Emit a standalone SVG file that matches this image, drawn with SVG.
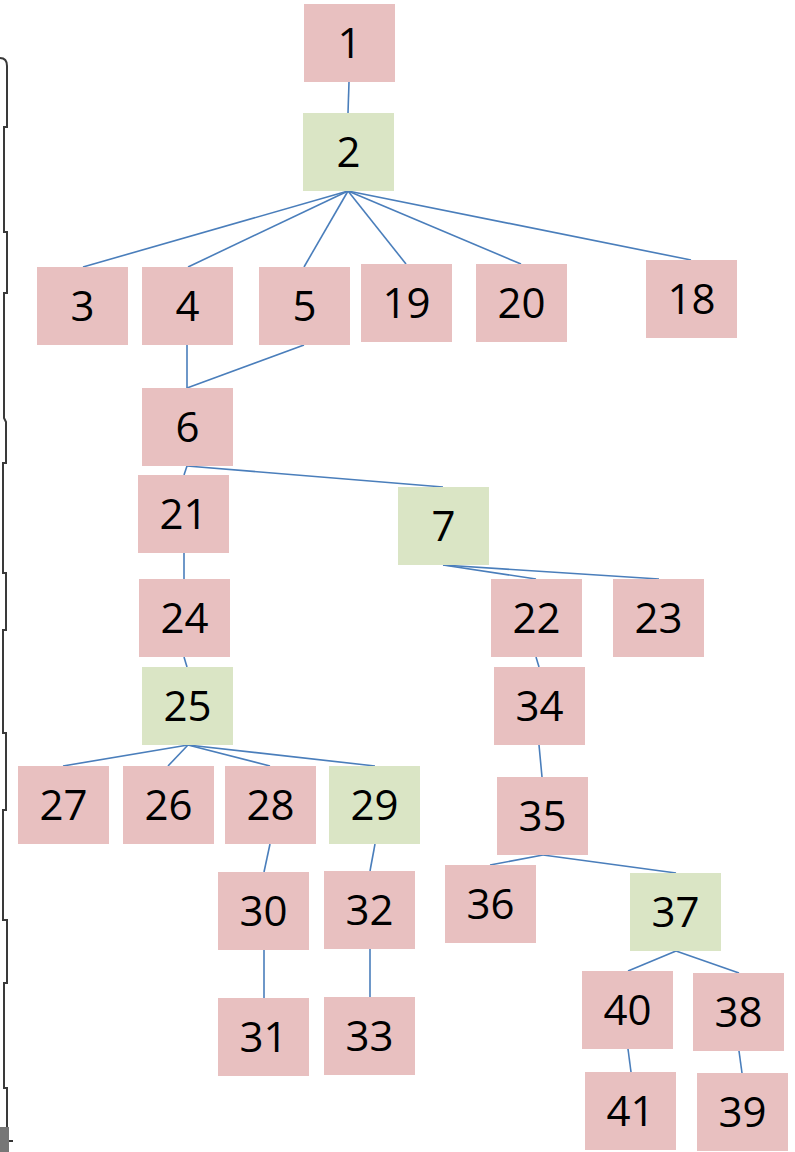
<svg xmlns="http://www.w3.org/2000/svg" width="795" height="1152" viewBox="0 0 795 1152">
<style>
.p{fill:#E8C0C0}
.g{fill:#DAE5C5}
.t{font-family:"Open Sans","Liberation Sans",sans-serif;font-size:42px;fill:#000;text-anchor:middle}
.c line{stroke:#4A7EBB;stroke-width:1.6}
.edge{fill:none;stroke:#3a3a3a;stroke-width:2}
</style>
<rect width="795" height="1152" fill="#fff"/>
<g id="scan-edge">
<path class="edge" d="M0,58 Q7,58 7,66 V127 H4 V232 H7 V293 H4 V418 L6,422 V463 H3 V573 H6 V630 H3 V733 H6 V810 H3 V920 H7 V983 H4 V1088 H7 V1152"/>
<rect x="0" y="1127" width="9" height="25" fill="#777"/>
<line x1="9" y1="1141" x2="13" y2="1141" stroke="#333" stroke-width="2"/>
</g>
<g class="c" id="connectors">
<line x1="349" y1="82" x2="348" y2="113"/>
<line x1="348" y1="191" x2="83" y2="267"/>
<line x1="348" y1="191" x2="188" y2="267"/>
<line x1="348" y1="191" x2="304" y2="267"/>
<line x1="348" y1="191" x2="406" y2="264"/>
<line x1="348" y1="191" x2="521" y2="264"/>
<line x1="348" y1="191" x2="691" y2="260"/>
<line x1="187" y1="345" x2="187" y2="388"/>
<line x1="304" y1="345" x2="187" y2="388"/>
<line x1="187" y1="466" x2="184" y2="475"/>
<line x1="187" y1="466" x2="443" y2="487"/>
<line x1="184" y1="553" x2="184" y2="579"/>
<line x1="184" y1="657" x2="187" y2="667"/>
<line x1="188" y1="745" x2="63" y2="766"/>
<line x1="188" y1="745" x2="168" y2="766"/>
<line x1="188" y1="745" x2="270" y2="766"/>
<line x1="188" y1="745" x2="375" y2="766"/>
<line x1="270" y1="844" x2="264" y2="872"/>
<line x1="375" y1="844" x2="370" y2="871"/>
<line x1="264" y1="950" x2="264" y2="998"/>
<line x1="370" y1="949" x2="370" y2="997"/>
<line x1="443" y1="565" x2="536" y2="579"/>
<line x1="443" y1="565" x2="659" y2="579"/>
<line x1="536" y1="657" x2="539" y2="667"/>
<line x1="539" y1="745" x2="542" y2="777"/>
<line x1="543" y1="855" x2="490" y2="865"/>
<line x1="543" y1="855" x2="676" y2="873"/>
<line x1="676" y1="951" x2="628" y2="971"/>
<line x1="676" y1="951" x2="739" y2="973"/>
<line x1="628" y1="1049" x2="631" y2="1072"/>
<line x1="739" y1="1051" x2="742" y2="1073"/>
</g>
<g id="n1"><rect class="p" x="304" y="4" width="91" height="78"/><text class="t" x="349.5" y="58">1</text></g>
<g id="n2"><rect class="g" x="303" y="113" width="91" height="78"/><text class="t" x="348.5" y="167">2</text></g>
<g id="n3"><rect class="p" x="37" y="267" width="91" height="78"/><text class="t" x="82.5" y="321">3</text></g>
<g id="n4"><rect class="p" x="142" y="267" width="91" height="78"/><text class="t" x="187.5" y="321">4</text></g>
<g id="n5"><rect class="p" x="259" y="267" width="91" height="78"/><text class="t" x="304.5" y="321">5</text></g>
<g id="n19"><rect class="p" x="361" y="264" width="91" height="78"/><text class="t" x="406.5" y="318">19</text></g>
<g id="n20"><rect class="p" x="476" y="264" width="91" height="78"/><text class="t" x="521.5" y="318">20</text></g>
<g id="n18"><rect class="p" x="646" y="260" width="91" height="78"/><text class="t" x="691.5" y="314">18</text></g>
<g id="n6"><rect class="p" x="142" y="388" width="91" height="78"/><text class="t" x="187.5" y="442">6</text></g>
<g id="n21"><rect class="p" x="138" y="475" width="91" height="78"/><text class="t" x="183.5" y="529">21</text></g>
<g id="n7"><rect class="g" x="398" y="487" width="91" height="78"/><text class="t" x="443.5" y="541">7</text></g>
<g id="n24"><rect class="p" x="139" y="579" width="91" height="78"/><text class="t" x="184.5" y="633">24</text></g>
<g id="n25"><rect class="g" x="142" y="667" width="91" height="78"/><text class="t" x="187.5" y="721">25</text></g>
<g id="n22"><rect class="p" x="491" y="579" width="91" height="78"/><text class="t" x="536.5" y="633">22</text></g>
<g id="n23"><rect class="p" x="613" y="579" width="91" height="78"/><text class="t" x="658.5" y="633">23</text></g>
<g id="n34"><rect class="p" x="494" y="667" width="91" height="78"/><text class="t" x="539.5" y="721">34</text></g>
<g id="n35"><rect class="p" x="497" y="777" width="91" height="78"/><text class="t" x="542.5" y="831">35</text></g>
<g id="n27"><rect class="p" x="18" y="766" width="91" height="78"/><text class="t" x="63.5" y="820">27</text></g>
<g id="n26"><rect class="p" x="123" y="766" width="91" height="78"/><text class="t" x="168.5" y="820">26</text></g>
<g id="n28"><rect class="p" x="225" y="766" width="91" height="78"/><text class="t" x="270.5" y="820">28</text></g>
<g id="n29"><rect class="g" x="329" y="766" width="91" height="78"/><text class="t" x="374.5" y="820">29</text></g>
<g id="n30"><rect class="p" x="218" y="872" width="91" height="78"/><text class="t" x="263.5" y="926">30</text></g>
<g id="n32"><rect class="p" x="324" y="871" width="91" height="78"/><text class="t" x="369.5" y="925">32</text></g>
<g id="n31"><rect class="p" x="218" y="998" width="91" height="78"/><text class="t" x="263.5" y="1052">31</text></g>
<g id="n33"><rect class="p" x="324" y="997" width="91" height="78"/><text class="t" x="369.5" y="1051">33</text></g>
<g id="n36"><rect class="p" x="445" y="865" width="91" height="78"/><text class="t" x="490.5" y="919">36</text></g>
<g id="n37"><rect class="g" x="630" y="873" width="91" height="78"/><text class="t" x="675.5" y="927">37</text></g>
<g id="n40"><rect class="p" x="582" y="971" width="91" height="78"/><text class="t" x="627.5" y="1025">40</text></g>
<g id="n38"><rect class="p" x="693" y="973" width="91" height="78"/><text class="t" x="738.5" y="1027">38</text></g>
<g id="n41"><rect class="p" x="585" y="1072" width="91" height="78"/><text class="t" x="630.5" y="1126">41</text></g>
<g id="n39"><rect class="p" x="697" y="1073" width="91" height="78"/><text class="t" x="742.5" y="1127">39</text></g>
</svg>
